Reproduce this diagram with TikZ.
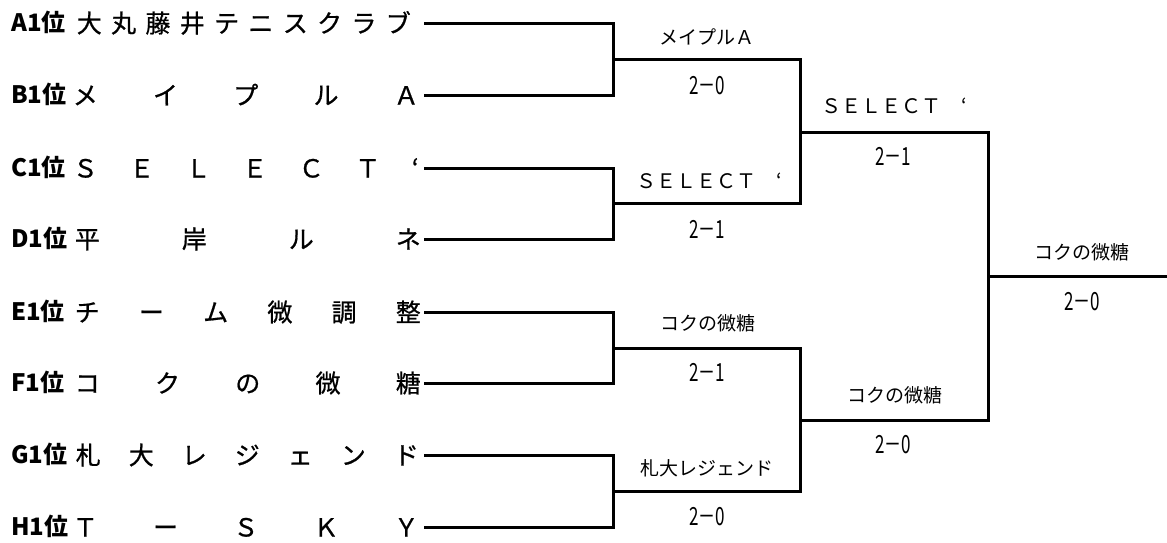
\documentclass[tikz,border=0pt]{standalone}
\usepackage{fontspec}
\usepackage{graphicx}
\newfontfamily\jp{Noto Sans CJK JP}
\newfontfamily\jpm[FakeBold=0.7]{Noto Sans CJK JP}
\newcommand\spreadchars[1]{\spreadloop#1\relax}
\def\spreadloop#1{\ifx#1\relax\unskip\else#1\hfill\expandafter\spreadloop\fi}
\newcommand\narrowscore[1]{\scalebox{0.68}[1]{#1}}
\tikzset{
  seed/.style={anchor=west, inner sep=0pt, text height=20pt, text depth=3pt,
    font=\jp\bfseries\fontsize{24}{24}\selectfont},
  team/.style={anchor=east, inner sep=0pt, text height=22pt, text depth=3pt,
    font=\jpm\fontsize{25}{25}\selectfont},
  winner/.style={inner sep=0pt, text height=16.5pt, text depth=2.5pt,
    font=\jp\fontsize{19}{19}\selectfont},
  selwin/.style={inner sep=0pt, text height=17pt, text depth=2.5pt,
    font=\jp\fontsize{20}{20}\selectfont},
  result/.style={inner sep=0pt, text height=19pt, text depth=2pt,
    font=\jp\fontsize{25}{25}\selectfont},
  bracket/.style={line width=3pt, line join=miter, black},
}
\begin{document}
\begin{tikzpicture}[x=1pt, y=-1pt]
\useasboundingbox (0,0) rectangle (1167,542);
% seeds
\node[seed] (lA) at (11,23) {A1位};
\node[seed] (lB) at (11,95) {B1位};
\node[seed] (lC) at (11,168) {C1位};
\node[seed] (lD) at (11,239) {D1位};
\node[seed] (lE) at (11,312) {E1位};
\node[seed] (lF) at (11,383) {F1位};
\node[seed] (lG) at (11,455) {G1位};
\node[seed] (lH) at (11,527) {H1位};
% teams
\node[team] (tA) at (424,23) {\makebox[334pt][s]{\spreadchars{大丸藤井テニスクラブ}}\kern13pt};
\node[team] (tB) at (424,95) {\makebox[346pt][s]{\spreadchars{メイプルＡ}}\kern5pt};
\node[team] (tC) at (424,168) {\makebox[346pt][s]{\spreadchars{ＳＥＬＥＣＴ‘}}\kern5pt};
\node[team] (tD) at (424,239) {\makebox[346pt][s]{\spreadchars{平岸ルネ}}\kern3pt};
\node[team] (tE) at (424,312) {\makebox[346pt][s]{\spreadchars{チーム微調整}}\kern3pt};
\node[team] (tF) at (424,383) {\makebox[346pt][s]{\spreadchars{コクの微糖}}\kern3pt};
\node[team] (tG) at (424,455) {\makebox[343pt][s]{\spreadchars{札大レジェンド}}\kern5pt};
\node[team] (tH) at (424,527) {\makebox[346pt][s]{\spreadchars{ＴーＳＫＹ}}\kern5pt};
% junctions
\coordinate (m1) at (613,59);
\coordinate (m2) at (613,203);
\coordinate (m3) at (613,348);
\coordinate (m4) at (613,491);
\coordinate (m5) at (800,132);
\coordinate (m6) at (800,420);
\coordinate (m7) at (988,276);
\coordinate (champ) at (1167,276);
% connectors
\draw[bracket] (tA.east) -| (m1);
\draw[bracket] (tB.east) -| (m1);
\draw[bracket] (tC.east) -| (m2);
\draw[bracket] (tD.east) -| (m2);
\draw[bracket] (tE.east) -| (m3);
\draw[bracket] (tF.east) -| (m3);
\draw[bracket] (tG.east) -| (m4);
\draw[bracket] (tH.east) -| (m4);
\draw[bracket] (m1) -| (m5);
\draw[bracket] (m2) -| (m5);
\draw[bracket] (m3) -| (m6);
\draw[bracket] (m4) -| (m6);
\draw[bracket] (m5) -| (m7);
\draw[bracket] (m6) -| (m7);
\draw[bracket] (m7) -- (champ);
% winners and scores
\node[winner] (w1) at (707,37) {メイプルＡ};
\node[result] (s1) at (707,86) {\narrowscore{2－0}};
\node[selwin] (w2) at (709,181) {ＳＥＬＥＣＴ　‘};
\node[result] (s2) at (707,230) {\narrowscore{2－1}};
\node[winner] (w3) at (708,323) {コクの微糖};
\node[result] (s3) at (707,373) {\narrowscore{2－1}};
\node[winner] (w4) at (707,468) {札大レジェンド};
\node[result] (s4) at (707,517) {\narrowscore{2－0}};
\node[selwin] (w5) at (894,106) {ＳＥＬＥＣＴ　‘};
\node[result] (s5) at (893,157) {\narrowscore{2－1}};
\node[winner] (w6) at (895,395) {コクの微糖};
\node[result] (s6) at (893,445) {\narrowscore{2－0}};
\node[winner] (w7) at (1082,252) {コクの微糖};
\node[result] (s7) at (1082,302) {\narrowscore{2－0}};
\end{tikzpicture}
\end{document}
